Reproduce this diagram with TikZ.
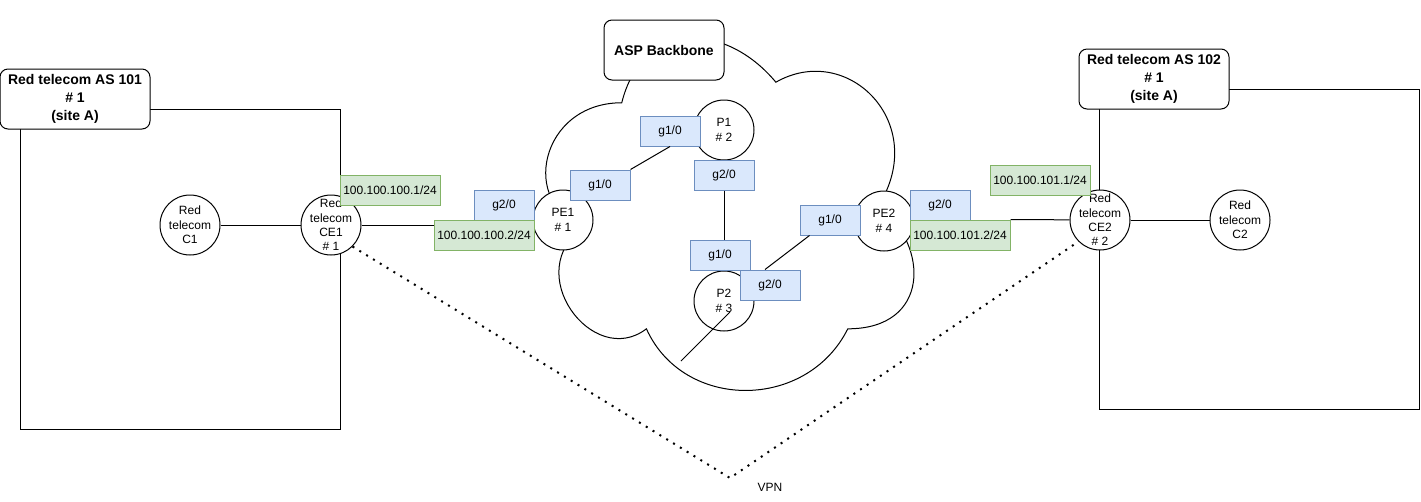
\documentclass[tikz,border=0pt]{standalone}
\usepackage{fontspec}
\setmainfont{Liberation Sans}
\usetikzlibrary{calc}

\definecolor{ifFill}{HTML}{DAE8FC}
\definecolor{ifLine}{HTML}{6C8EBF}
\definecolor{ipFill}{HTML}{D5E8D4}
\definecolor{ipLine}{HTML}{82B366}

\begin{document}
\begin{tikzpicture}[x=0.75pt, y=-0.75pt, line width=0.75pt,
        font=\fontsize{9}{10.8}\selectfont,
        router/.style={draw, circle, fill=white, inner sep=-4pt, minimum size=45pt, align=center},
        iface/.style={draw=ifLine, fill=ifFill, inner sep=0pt, minimum width=45pt, minimum height=22.5pt},
        ipaddr/.style={draw=ipLine, fill=ipFill, inner sep=0pt, minimum width=75pt, minimum height=22.5pt},
        sitelabel/.style={draw, fill=white, rounded corners=6pt, inner sep=0pt, minimum width=112.5pt,
            minimum height=45pt, align=center, font=\bfseries\fontsize{10.5}{13.5}\selectfont},
        vpnline/.style={line width=1.5pt, dash pattern=on 1.5pt off 4.5pt}]
        \def\sw{320}

        \useasboundingbox (0,0) rectangle (1421,501);

        \draw (20,109) rectangle +(\sw,\sw);
        \draw (1099,89) rectangle +(\sw,\sw);

        \begin{scope}[shift={(519,0)}, x=308.25pt, y=-308.25pt]
            \draw (0.25,0.25) .. controls (0.05,0.25) and (0,0.5) .. (0.16,0.55)
                .. controls (0,0.66) and (0.18,0.9) .. (0.31,0.8)
                .. controls (0.4,1) and (0.7,1) .. (0.8,0.8)
                .. controls (1,0.8) and (1,0.6) .. (0.875,0.5)
                .. controls (1,0.3) and (0.8,0.1) .. (0.625,0.2)
                .. controls (0.5,0.05) and (0.3,0.05) .. (0.25,0.25) -- cycle;
        \end{scope}

        \node[sitelabel] (siteA) at (75,99) {Red telecom AS 101\\\# 1\\(site A)};
        \node[sitelabel] (siteB) at (1154,79) {Red telecom AS 102\\\# 1\\(site A)};
        \node[sitelabel, minimum width=90pt] (backbone) at (664,50) {ASP Backbone};

        \node[router] (C1) at (190,225) {Red\\telecom\\C1};
        \node[router] (CE1) at (331,225) {Red\\telecom\\CE1\\\# 1};
        \node[router] (PE1) at (563,220) {PE1\\\# 1};
        \node[router] (P1) at (724,130) {P1\\\# 2};
        \node[router] (P2) at (724,301) {P2\\\# 3};
        \node[router] (PE2) at (884,221) {PE2\\\# 4};
        \node[router] (CE2) at (1100,220) {Red\\telecom\\CE2\\\# 2};
        \node[router] (C2) at (1240,220) {Red\\telecom\\C2};

        \node[iface] (PE1g2) at (504,205) {g2/0};
        \node[iface] (PE1g1) at (600,185) {g1/0};
        \node[iface] (P1g1) at (670,131) {g1/0};
        \node[iface] (P1g2) at (724,175) {g2/0};
        \node[iface] (P2g1) at (720,255) {g1/0};
        \node[iface] (P2g2) at (770,285) {g2/0};
        \node[iface] (PE2g1) at (830,220) {g1/0};
        \node[iface] (PE2g2) at (940,205) {g2/0};

        \node[ipaddr] (CE1ip) at (390,190) {100.100.100.1/24};
        \node[ipaddr] (PE1ip) at (484,235) {100.100.100.2/24};
        \node[ipaddr] (PE2ip) at (960,235) {100.100.101.2/24};
        \node[ipaddr] (CE2ip) at (1040,180) {100.100.101.1/24};

        \draw (C1) -- (CE1);
        \draw (CE1) -- (CE1 -| PE1ip.west);
        \draw (PE1g1.north east) -- (P1g1.south);
        \draw (P1g2.south) -- (P1g2.south |- P2g1.north);
        \draw ($(P2g2.north)+(-5,0)$) -- ($(PE2g1.south west)+(10,0)$);
        \draw (PE2ip.north east) -- (CE2);
        \draw (CE2) -- (C2);

        \coordinate (P2stub) at (681,361);
        \draw ($(P2)+(6,11)$) -- (P2stub);

        \coordinate (vpnTip) at (730,478);
        \draw[vpnline] (CE1.-45) -- (vpnTip) -- (CE2.-135);
        \node (vpnLabel) at (770,487) {VPN};
    \end{tikzpicture}
\end{document}
